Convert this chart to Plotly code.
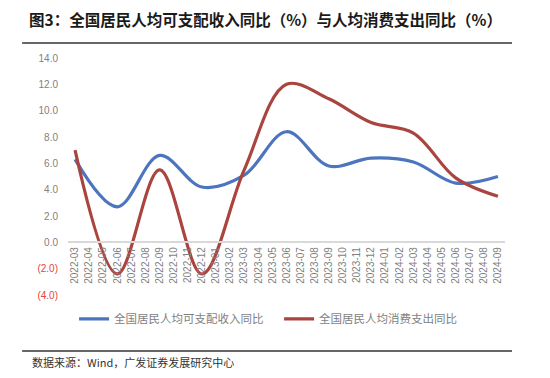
import plotly.graph_objects as go

months = [f"{y}-{m:02d}" for y, ms in ((2022, range(3, 13)), (2023, range(1, 13)), (2024, range(1, 10))) for m in ms]
quarters = ["2022-03", "2022-06", "2022-09", "2022-12", "2023-03", "2023-06",
            "2023-09", "2023-12", "2024-03", "2024-06", "2024-09"]
income = [6.3, 2.7, 6.6, 4.2, 5.1, 8.4, 5.8, 6.4, 6.1, 4.5, 5.0]
consumption = [7.0, -2.4, 5.5, -2.4, 5.5, 12.0, 10.9, 9.1, 8.3, 4.9, 3.5]

ytick_vals = [-4, -2, 0, 2, 4, 6, 8, 10, 12, 14]
ytick_text = ["<span style='color:#e8443c'>(4.0)</span>", "<span style='color:#e8443c'>(2.0)</span>",
              "0.0", "2.0", "4.0", "6.0", "8.0", "10.0", "12.0", "14.0"]

name_income = "全国居民人均可支配收入同比"
name_cons = "全国居民人均消费支出同比"
title = "图3：全国居民人均可支配收入同比（%）与人均消费支出同比（%）"
source = "数据来源：Wind，广发证券发展研究中心"

FONT = "Noto Sans CJK SC"
ymin, ymax = -4, 14

fig = go.Figure()
fig.add_trace(go.Scatter(x=quarters, y=income, name=name_income, mode="lines",
                         line=dict(color="#4d74bf", width=3.2, shape="spline", smoothing=1.0)))
fig.add_trace(go.Scatter(x=quarters, y=consumption, name=name_cons, mode="lines",
                         line=dict(color="#aa443f", width=3.2, shape="spline", smoothing=1.0)))

fig.update_layout(
    width=550, height=378,
    margin=dict(l=60, r=53, t=50, b=91, autoexpand=False),
    paper_bgcolor="white", plot_bgcolor="white",
    font=dict(family=FONT, color="#595959"),
    showlegend=True,
    legend=dict(orientation="h", x=0.483, xanchor="center", y=-0.101, yanchor="middle",
                entrywidth=160, entrywidthmode="pixels",
                font=dict(family=FONT, size=11.5, color="#7f7f7f"), bgcolor="rgba(0,0,0,0)"),
    title=dict(text=f"<b>{title}</b>", x=21 / 550, xanchor="left", y=1 - 13 / 378, yanchor="middle",
               font=dict(family=FONT, size=15.5, color="#1a1a1a")),
    xaxis=dict(type="category", categoryorder="array", categoryarray=months,
               tickvals=months, ticktext=months, range=[-0.5, len(months) - 0.5],
               anchor="free", position=(0 - ymin) / (ymax - ymin),
               showline=True, linecolor="#d9d9d9", linewidth=1.5,
               showgrid=False, zeroline=False, ticks="",
               tickangle=-90, tickfont=dict(family="Liberation Sans", size=10, color="#7f7f7f")),
    yaxis=dict(range=[ymin, ymax], tickvals=ytick_vals, ticktext=ytick_text,
               showgrid=False, zeroline=False, showline=False, ticks="",
               ticklabelstandoff=9,
               tickfont=dict(family="Liberation Sans", size=10, color="#7f7f7f")),
    shapes=[
        dict(type="line", xref="paper", yref="paper", x0=-0.105, x1=1.016, y0=1.063, y1=1.063,
             line=dict(color="#333333", width=1.5)),
        dict(type="line", xref="paper", yref="paper", x0=-0.105, x1=1.016, y0=-0.236, y1=-0.236,
             line=dict(color="#333333", width=1.5)),
    ],
    annotations=[
        dict(text=source, xref="paper", yref="paper", x=-0.087, y=-0.283, xanchor="left", yanchor="middle",
             showarrow=False, font=dict(family=FONT, size=11, color="#333333")),
    ],
)

fig.write_html("out.html")
